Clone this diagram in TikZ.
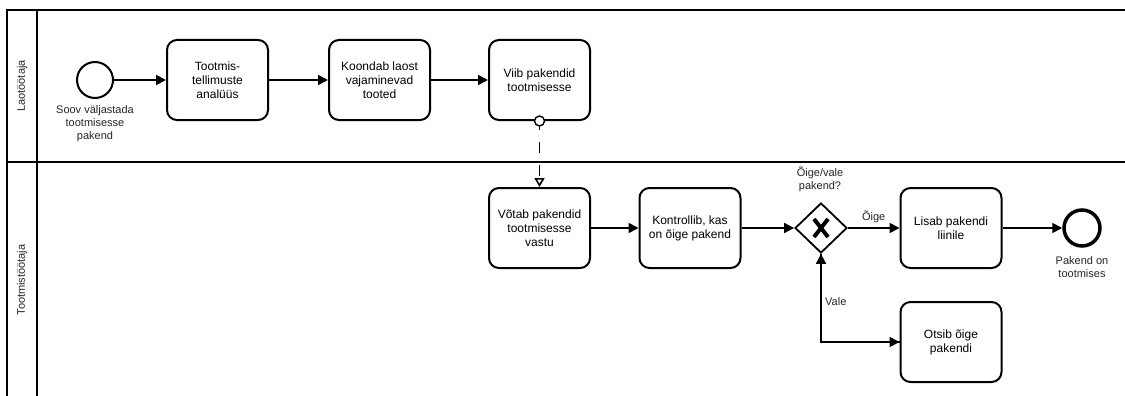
\documentclass[tikz,border=0pt]{standalone}
\usepackage{fontspec}
\setmainfont{Liberation Sans}
\usetikzlibrary{arrows.meta,shapes.geometric,calc}

\tikzset{
  task/.style={draw, line width=2pt, rounded corners=10pt, minimum width=101pt,
    minimum height=80pt, inner sep=0pt, align=center,
    font=\fontsize{12}{14}\selectfont},
  lbl/.style={align=center, inner sep=0pt, font=\fontsize{11}{13}\selectfont, text=black!85},
  lanelbl/.style={rotate=90, inner sep=0pt, font=\fontsize{11}{13}\selectfont, text=black!85},
  flow/.style={line width=1.8pt, -{Triangle[length=10pt,width=10pt]}},
  msgflow/.style={line width=1.6pt, dash pattern=on 11pt off 12pt, dash phase=8pt,
    -{Triangle[open,length=9pt,width=10pt,fill=white]}},
  lane/.style={line width=2pt},
  startev/.style={circle, draw, line width=2pt, minimum size=36pt, inner sep=0pt},
  endev/.style={circle, draw, line width=3.5pt, minimum size=36pt, inner sep=0pt},
  gateway/.style={diamond, draw, line width=1.8pt, minimum width=52pt,
    minimum height=50pt, inner sep=0pt},
}

\begin{document}
\begin{tikzpicture}[x=1pt, y=-1pt]
  \useasboundingbox (0,0) rectangle (1125,396);
  \clip (0,0) rectangle (1125,396);
  \fill[white] (0,0) rectangle (1125,396);

  % pool with two lanes (continues past the right and lower edges)
  \draw[lane] (1130,10) -- (7,10) -- (7,400);
  \draw[lane] (37,10) -- (37,400);
  \draw[lane] (7,162) -- (1130,162);
  \node[lanelbl] (laneA) at (22,86) {Laotöötaja};
  \node[lanelbl] (laneB) at (22,280) {Tootmistöötaja};

  % upper lane
  \node[startev] (start) at (95,80) {};
  \node[lbl, anchor=north] (startlbl) at (95,105) {Soov väljastada\\tootmisesse\\pakend};
  \node[task] (t1) at (217.5,80) {Tootmis-\\tellimuste\\analüüs};
  \node[task] (t2) at (379.5,80) {Koondab laost\\vajaminevad\\tooted};
  \node[task] (t3) at (539.5,80) {Viib pakendid\\tootmisesse};

  % lower lane
  \node[task] (t4) at (539.5,228) {Võtab pakendid\\tootmisesse\\vastu};
  \node[task] (t5) at (690,228) {Kontrollib, kas\\on õige pakend};
  \node[gateway] (gw) at (821,228) {};
  \draw[line width=4pt] ($(gw)+(-7,-9)$) -- ($(gw)+(7,9)$);
  \draw[line width=4pt] ($(gw)+(7,-9)$) -- ($(gw)+(-7,9)$);
  \node[lbl] (gwlbl) at (820,179) {Õige/vale\\pakend?};
  \node[task] (t6) at (951,228) {Lisab pakendi\\liinile};
  \node[task] (t7) at (951,342) {Otsib õige\\pakendi};
  \node[endev] (end) at (1082,228) {};
  \node[lbl] (endlbl) at (1082,267) {Pakend on\\tootmises};

  % sequence flows
  \draw[flow] (start) -- (t1);
  \draw[flow] (t1) -- (t2);
  \draw[flow] (t2) -- (t3);
  \draw[flow] (t4) -- (t5);
  \draw[flow] (t5) -- (gw);
  \draw[flow] (gw) -- (t6) node[lbl, midway, above=4pt] (okl) {Õige};
  \draw[flow] (t6) -- (end);
  \draw[flow] (gw.south) |- (t7.west);
  \draw[flow] (t7.west) -| (gw.south);
  \node[lbl, anchor=west] (valel) at (825,302) {Vale};

  % message flow between the lanes
  \node[circle, draw, fill=white, line width=1.4pt, minimum size=10pt, inner sep=0pt] (mf) at (t3.south) {};
  \draw[msgflow] (mf.south) -- (t4.north);
\end{tikzpicture}
\end{document}
